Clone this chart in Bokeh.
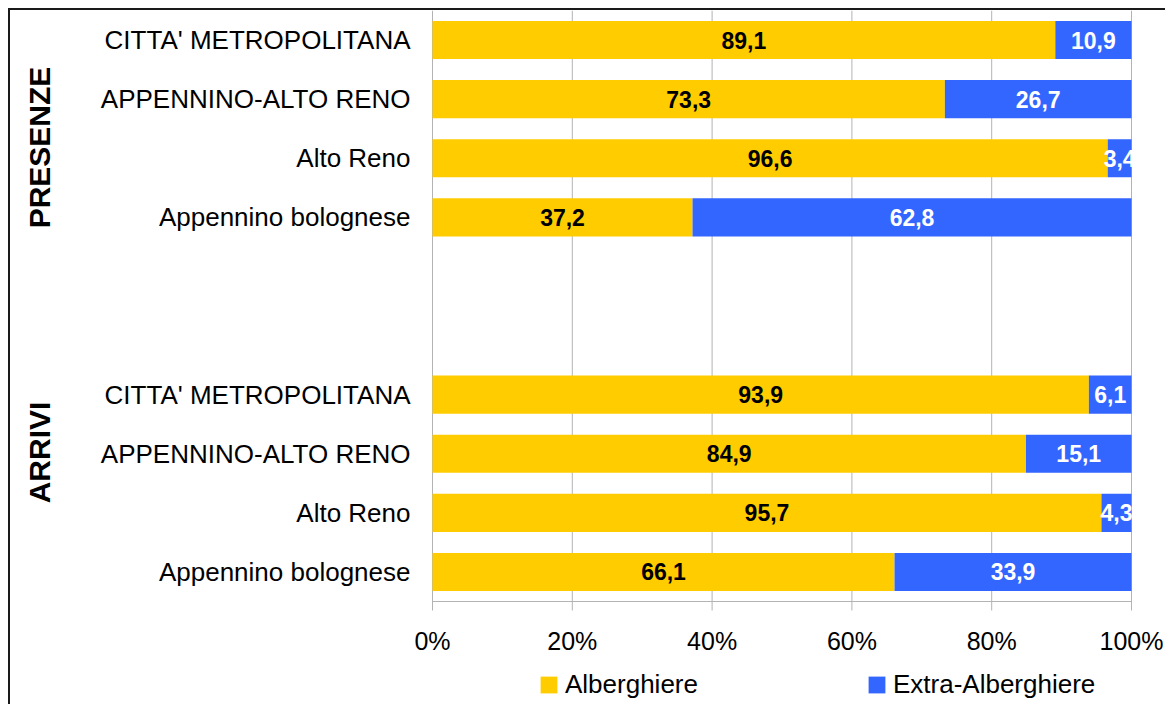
import math
from bokeh.plotting import figure
from bokeh.models import Range1d, Legend, LegendItem, ColumnDataSource
from bokeh.core.properties import value
from bokeh.embed import file_html
from bokeh.resources import INLINE

# ---- data ----
categories = ["CITTA' METROPOLITANA", "APPENNINO-ALTO RENO", "Alto Reno", "Appennino bolognese"]
groups = ["PRESENZE", "ARRIVI"]
alberghiere_presenze = [89.1, 73.3, 96.6, 37.2]
extra_presenze = [10.9, 26.7, 3.4, 62.8]
alberghiere_arrivi = [93.9, 84.9, 95.7, 66.1]
extra_arrivi = [6.1, 15.1, 4.3, 33.9]
x_ticks = [0, 20, 40, 60, 80, 100]
x_tick_labels = ["0%", "20%", "40%", "60%", "80%", "100%"]
series_names = ["Alberghiere", "Extra-Alberghiere"]

# ---- styles / layout ----
FONT = "Liberation Sans"
YELLOW = "#FFCC00"
BLUE = "#3366FF"
GRID = "#b3b3b3"

PX0, PX100 = 432, 1131          # page x of 0% and 100%
FRAME_L, FRAME_R = 10, 1165     # page x of the drawing frame
FRAME_T, FRAME_B = 10, 704      # page y of the drawing frame
AXIS_Y = 601                    # page y of the value axis
PPU = (PX100 - PX0) / 100.0
SLOT_PX = (AXIS_Y - FRAME_T) / 10.0
X_START = -(PX0 - FRAME_L) / PPU
X_END = 100 + (FRAME_R - PX100) / PPU
Y_BOTTOM = -(FRAME_B - AXIS_Y) / SLOT_PX
TICK_BOTTOM = -9 / SLOT_PX
TICK_LABEL_Y = -(640 - AXIS_Y) / SLOT_PX

# slot layout: 4 PRESENZE rows, 2 empty slots, 4 ARRIVI rows (10 slots)
ys_pres = [9.5, 8.5, 7.5, 6.5]
ys_arr = [3.5, 2.5, 1.5, 0.5]
group_label_y = [10 - (147 - FRAME_T) / SLOT_PX, 10 - (452 - FRAME_T) / SLOT_PX]
ys = ys_pres + ys_arr
alb = alberghiere_presenze + alberghiere_arrivi
ext = extra_presenze + extra_arrivi
names = categories + categories

def fmt(v):
    return f"{v:.1f}".replace(".", ",")

src = ColumnDataSource(dict(
    y=ys, alb=alb, ext=ext, tot=[a + e for a, e in zip(alb, ext)],
    alb_mid=[a / 2 for a in alb], ext_mid=[a + e / 2 for a, e in zip(alb, ext)],
    alb_lab=[fmt(a) for a in alb], ext_lab=[fmt(e) for e in ext],
    name=names, name_x=[-22 / PPU] * len(ys),
))

p = figure(frame_width=FRAME_R - FRAME_L, frame_height=FRAME_B - FRAME_T,
           x_range=Range1d(X_START, X_END), y_range=Range1d(Y_BOTTOM, 10),
           output_backend="svg", toolbar_location=None,
           min_border_left=0, min_border_right=0,
           min_border_top=0, min_border_bottom=0)
p.styles = {"border-left": "2px solid #1a1a1a", "border-top": "2px solid #1a1a1a",
            "margin-left": "8px", "margin-top": "8px"}
p.outline_line_color = None
p.background_fill_color = "white"
p.xaxis.visible = False
p.yaxis.visible = False
p.xgrid.grid_line_color = None
p.ygrid.grid_line_color = None

# vertical gridlines, each continuing below the axis as a tick mark
p.segment(x0=x_ticks, y0=[TICK_BOTTOM] * len(x_ticks), x1=x_ticks,
          y1=[10] * len(x_ticks), line_color=GRID, line_width=1)

bh = 0.645
r1 = p.hbar(y="y", left=0, right="alb", height=bh, source=src,
            fill_color=YELLOW, line_color=None)
r2 = p.hbar(y="y", left="alb", right="tot", height=bh, source=src,
            fill_color=BLUE, line_color=None)

p.text(x="alb_mid", y="y", text="alb_lab", source=src, text_align="center",
       text_baseline="middle", text_font=value(FONT), text_font_style="bold",
       text_font_size="23px", text_color="black")
p.text(x="ext_mid", y="y", text="ext_lab", source=src, text_align="center",
       text_baseline="middle", text_font=value(FONT), text_font_style="bold",
       text_font_size="23px", text_color="white")

# mask overflow of data labels beyond 100%
p.quad(left=[100 + 0.6 / PPU], right=[X_END], bottom=[0], top=[10],
       fill_color="white", line_color=None)

# value axis line
p.segment(x0=[x_ticks[0]], y0=[0], x1=[x_ticks[-1]], y1=[0],
          line_color=GRID, line_width=1)

# tick labels
p.text(x=x_ticks, y=[TICK_LABEL_Y] * len(x_ticks), text=x_tick_labels,
       text_align="center", text_baseline="middle", text_font=value(FONT),
       text_font_size="25px", text_color="black")

# category labels
p.text(x="name_x", y="y", text="name", source=src, text_align="right",
       text_baseline="middle", text_font=value(FONT), text_font_size="26px",
       text_color="black")

# group labels
p.text(x=[(39 - PX0) / PPU] * 2, y=group_label_y, text=groups, angle=math.pi / 2,
       text_align="center", text_baseline="middle", text_font=value(FONT),
       text_font_style="bold", text_font_size="30px", text_color="black")

legend = Legend(items=[LegendItem(label=series_names[0], renderers=[r1]),
                       LegendItem(label=series_names[1], renderers=[r2])],
                orientation="horizontal", location=(538 - FRAME_L, 4),
                glyph_width=21, glyph_height=21, label_standoff=6, spacing=168,
                padding=0, margin=0, border_line_color=None,
                background_fill_alpha=0,
                label_text_font=FONT, label_text_font_size="26px",
                label_text_color="black")
p.add_layout(legend, "center")

open("out.html", "w").write(file_html(p, INLINE))
